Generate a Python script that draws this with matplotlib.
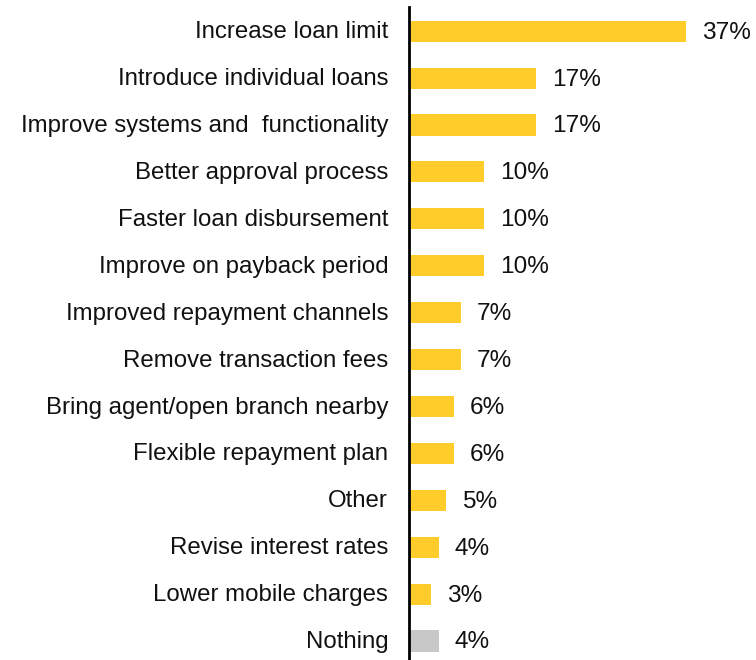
import matplotlib
matplotlib.use("Agg")
import matplotlib.pyplot as plt
from matplotlib.transforms import ScaledTranslation

categories = [
    "Increase loan limit",
    "Introduce individual loans",
    "Improve systems and  functionality",
    "Better approval process",
    "Faster loan disbursement",
    "Improve on payback period",
    "Improved repayment channels",
    "Remove transaction fees",
    "Bring agent/open branch nearby",
    "Flexible repayment plan",
    "Other",
    "Revise interest rates",
    "Lower mobile charges",
    "Nothing",
]
values = [37, 17, 17, 10, 10, 10, 7, 7, 6, 6, 5, 4, 3, 4]
value_labels = ["37%", "17%", "17%", "10%", "10%", "10%", "7%", "7%",
                "6%", "6%", "5%", "4%", "3%", "4%"]

YELLOW = "#FFCC2A"
GRAY = "#C8C8C8"
colors = [YELLOW] * (len(values) - 1) + [GRAY]

plt.rcParams["font.family"] = ["Liberation Sans", "DejaVu Sans"]

fig = plt.figure(figsize=(7.56, 6.6), dpi=100)
ax = fig.add_axes([0.541, 0.0, 0.459, 0.989])

pos = list(range(len(categories)))
ax.barh(pos, values, height=0.45, color=colors, zorder=2)

for p, v, lab in zip(pos, values, value_labels):
    ax.text(v + 2.1, p + 0.03, lab, va="center", ha="left", fontsize=17.6, color="#111111")

ax.set_yticks(pos)
ax.set_yticklabels(categories, fontsize=17.3, color="#111111")
ax.tick_params(axis="y", length=0, pad=15)

# lift category labels slightly above the bar centres
lift = ScaledTranslation(0, 1.0 / 72, fig.dpi_scale_trans)
for t in ax.get_yticklabels():
    t.set_transform(t.get_transform() + lift)

ax.set_xticks([])
ax.set_xlim(0, 46.3)
ax.set_ylim(13.405, -0.51)

for s in ["top", "right", "bottom"]:
    ax.spines[s].set_visible(False)
ax.spines["left"].set_linewidth(2)
ax.spines["left"].set_color("black")
ax.spines["left"].set_zorder(3)

fig.savefig("out.png", dpi=100)
